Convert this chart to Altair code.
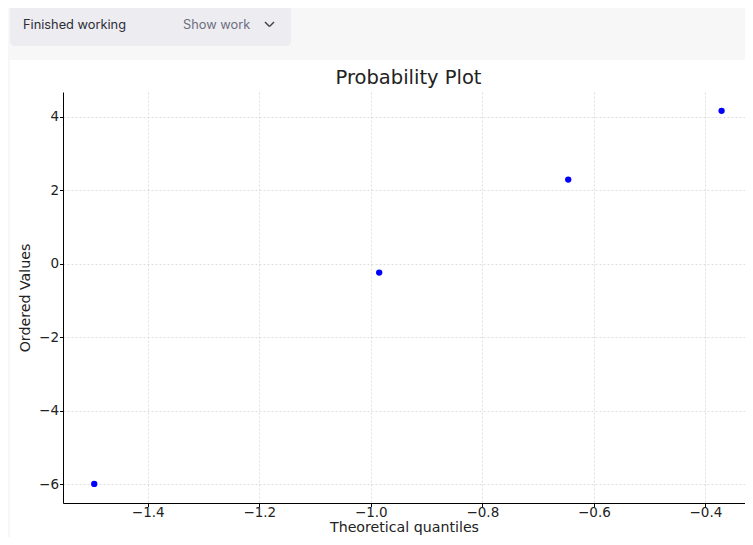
import altair as alt
import pandas as pd

# ---- data ----
quantiles = [-1.496, -0.985, -0.646, -0.371]
ordered = [-5.99, -0.24, 2.29, 4.16]
x_ticks = [-1.4, -1.2, -1.0, -0.8, -0.6, -0.4]
y_ticks = [-6, -4, -2, 0, 2, 4]
x_domain = [-1.552, -0.329]
y_domain = [-6.508, 4.671]
header_left = "Finished working"
header_right = "Show work"
title_text = "Probability Plot"
x_title = "Theoretical quantiles"
y_title = "Ordered Values"

df = pd.DataFrame({"q": quantiles, "v": ordered})

W, H = 682, 411
PL, PT = 55, 84
PB = 529 - PT - H
one = alt.Data(values=[{}])


def px(pagex):
    return pagex - 8 - PL


def py(pagey):
    return pagey - 8 - PT


top_band = alt.Chart(one).mark_rect(color="#f7f7f8").encode(
    x=alt.value(px(0)), x2=alt.value(px(770)), y=alt.value(py(0)), y2=alt.value(py(60)))
left_band = alt.Chart(one).mark_rect(color="#f7f7f8").encode(
    x=alt.value(px(0)), x2=alt.value(px(10)), y=alt.value(py(60)), y2=alt.value(py(560)))
header_box = alt.Chart(one).mark_rect(color="#ececf1", cornerRadius=5).encode(
    x=alt.value(px(10)), x2=alt.value(px(291)), y=alt.value(py(3)), y2=alt.value(py(46)))
t1 = alt.Chart(one).mark_text(text=header_left, align="left", baseline="middle",
                              font="Inter", fontSize=12.8, color="#2d2d35").encode(
    x=alt.value(px(23)), y=alt.value(py(25)))
t2 = alt.Chart(one).mark_text(text=header_right, align="left", baseline="middle",
                              font="Inter", fontSize=12.8, color="#6e6e80").encode(
    x=alt.value(px(183)), y=alt.value(py(25)))
chev1 = alt.Chart(one).mark_rule(color="#444", strokeWidth=1.5).encode(
    x=alt.value(px(265)), x2=alt.value(px(269.5)), y=alt.value(py(22)), y2=alt.value(py(26.5)))
chev2 = alt.Chart(one).mark_rule(color="#444", strokeWidth=1.5).encode(
    x=alt.value(px(269.5)), x2=alt.value(px(274)), y=alt.value(py(26.5)), y2=alt.value(py(22)))
title = alt.Chart(one).mark_text(text=title_text, align="center", baseline="alphabetic",
                                 font="DejaVu Sans", fontSize=19.5, color="#222").encode(
    x=alt.value(px(408.5)), y=alt.value(py(84)))

points = alt.Chart(df).mark_circle(size=40, color="#0000ff", opacity=1).encode(
    x=alt.X("q:Q", scale=alt.Scale(domain=x_domain, nice=False, zero=False),
            axis=alt.Axis(values=x_ticks, title=x_title, titlePadding=1, labelPadding=-1,
                          labelExpr="replace(format(datum.value, '.1f'), '-', '\u2212')")),
    y=alt.Y("v:Q", scale=alt.Scale(domain=y_domain, nice=False, zero=False),
            axis=alt.Axis(values=y_ticks, title=y_title, titlePadding=6, labelPadding=1,
                          labelExpr="replace(format(datum.value, 'd'), '-', '\u2212')")),
)

chart = alt.layer(top_band, left_band, header_box, t1, t2, chev1, chev2, title, points).properties(
    width=W, height=H,
    padding={"left": PL, "top": PT, "right": 0, "bottom": PB},
    autosize=alt.AutoSizeParams(type="none"),
    background="white",
).configure_view(stroke=None).configure_axis(
    domainColor="black", tickColor="black", domainWidth=1, tickSize=3.5, tickWidth=1,
    labelFont="DejaVu Sans", labelFontSize=13.5, labelColor="#222",
    titleFont="DejaVu Sans", titleFontSize=14.2, titleFontWeight="normal", titleColor="#222",
    gridColor="#d6d6d6", gridDash=[2, 2], gridWidth=0.8,
)

chart.save("out.html", embed_options={"renderer": "svg", "actions": False})
